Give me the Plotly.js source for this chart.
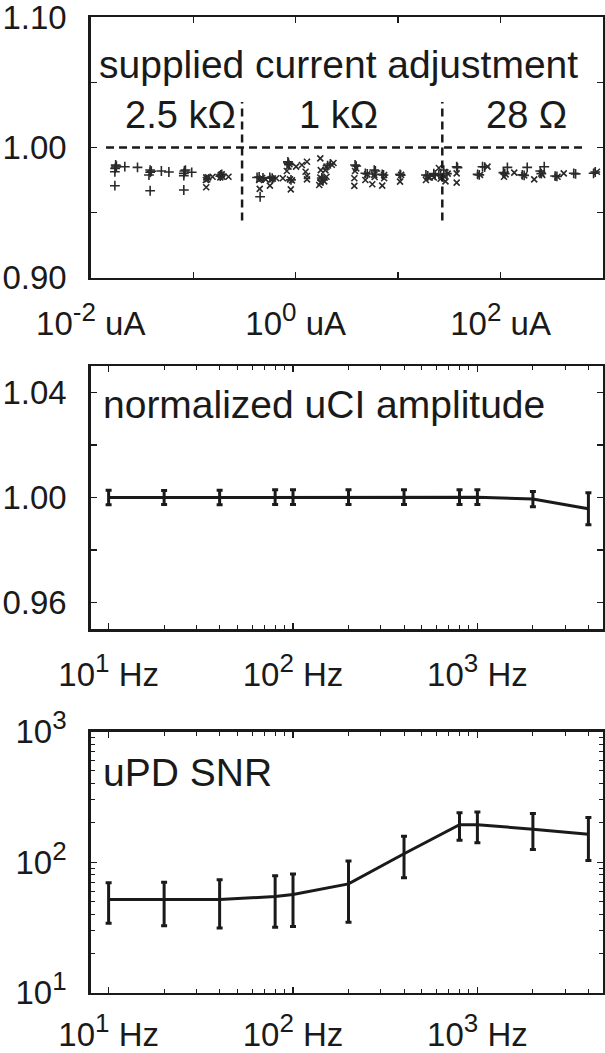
<!DOCTYPE html>
<html>
<head>
<meta charset="utf-8">
<script src="https://cdn.plot.ly/plotly-3.0.1.min.js"></script>
<style>html,body{margin:0;padding:0;background:#fff;}#chart{width:605px;height:1053px;}</style>
</head>
<body>
<div id="chart"></div>
<script>
// ---------- Panel 1: supplied current adjustment ----------
var plusX = [0.0175,0.0178,0.0173,0.0172,0.0176,0.0215,0.0286,0.0172,
             0.038,0.039,0.038,0.037,0.0489,0.0579,0.038,
             0.082,0.084,0.081,0.081,0.0967,0.081,0.186,0.19,0.184,
             0.45,0.42,0.48,0.44,0.56,0.59,0.84,0.86,0.85,0.90,1.85,1.80,2.18,2.05,3.8,3.9,4.79,5.0,5.85,6.0,7.0,7.2,10.45,10.6,18.7,19.5,
             22.3,23,25,26,27.9,30,37.3,38,59.7,62,66.7,70,106.6,110,116.6,163,170,182,244,250,267,341,355,518,540,809,840];
var plusY = [0.9866,0.9858,0.9840,0.9814,0.9850,0.9853,0.9848,0.9707,
             0.9827,0.9818,0.9810,0.9789,0.9820,0.9812,0.9668,
             0.9820,0.9827,0.9802,0.9784,0.9810,0.9674,0.9789,0.9794,0.9780,
             0.9622,0.9770,0.9766,0.9774,0.9770,0.9764,0.9890,0.9868,0.9880,0.9752,0.9751,0.9766,0.9874,0.9860,0.9866,0.9858,0.9802,0.9797,0.9827,0.9820,0.9794,0.9789,0.9794,0.9788,0.9789,0.9782,
             0.9800,0.9790,0.9794,0.9786,0.9827,0.9800,0.9853,0.9846,0.9794,0.9790,0.9853,0.9850,0.9807,0.9800,0.9848,0.9790,0.9786,0.9848,0.9820,0.9800,0.9853,0.9781,0.9778,0.9802,0.9798,0.9802,0.9812];
var crossX = [0.134,0.137,0.133,0.140,0.1545,0.134,
              0.186,0.19,0.184,0.193,0.221,
              0.446,0.44,0.45,0.51,0.47,0.561,0.58,0.60,0.646,0.750,0.897,0.88,0.92,0.85,0.82,0.87,
              1.01,1.15,1.29,1.25,1.29,1.29,1.74,1.76,1.70,1.74,1.75,1.9,1.82,2.0,2.0,2.34,2.25,1.95,
              3.74,3.9,3.8,3.74,5.0,4.79,5.6,5.85,5.9,7.0,7.3,7.31,10.7,10.45,19.5,18.7,20.4,
              22.3,25,26,28.5,30.5,29,37.3,37.3,63,74.6,108,112,136,170,213,250,255,360,414,871];
var crossY = [0.9771,0.9756,0.9751,0.9771,0.9776,0.9695,
              0.9789,0.9794,0.9771,0.9776,0.9776,
              0.9682,0.9752,0.9760,0.9756,0.9766,0.9707,0.9756,0.9762,0.9764,0.9764,0.9679,0.9756,0.9748,0.9853,0.9820,0.9872,
              0.9853,0.9866,0.9891,0.9814,0.9781,0.9756,0.9917,0.9827,0.9712,0.9770,0.9730,0.9740,0.9760,0.9776,0.9853,0.9881,0.9868,0.9827,
              0.9705,0.9840,0.9820,0.9764,0.9794,0.9751,0.9718,0.9790,0.9774,0.9707,0.9789,0.9764,0.9790,0.9738,0.9775,0.9751,0.9770,
              0.9770,0.9843,0.9760,0.9775,0.9800,0.9740,0.9802,0.9730,0.9790,0.9853,0.9776,0.9794,0.9807,0.9786,0.9756,0.9800,0.9790,0.9776,0.9802,0.9814];
var refLevel = 1.00;
var refSpanX = [0.0141, 676];
var rangeBounds = [0.3, 27];
var boundSpanY = [0.944, 1.035];
var rangeLabels = ['2.5 kΩ', '1 kΩ', '28 Ω'];
var rangeLabelX = [0.075, 2.6, 180];
var currTickVals = [0.01, 0.1, 1, 10, 100, 1000];
var currTickExp = ['-2', '', '0', '', '2', ''];
var adjTickVals = [0.90, 0.95, 1.00, 1.05, 1.10];
var adjTickText = ['0.90', '', '1.00', '', '1.10'];

// ---------- Panel 2: normalized uCI amplitude ----------
var freqs = [10, 20, 40, 80, 100, 200, 400, 800, 1000, 2000, 4000];
var amp = [1.0000, 1.0000, 1.0000, 1.0001, 1.0001, 1.0001, 1.0001, 1.0001, 1.0001, 0.9994, 0.9957];
var ampErr = [0.0028, 0.0027, 0.0028, 0.0028, 0.0028, 0.0028, 0.0028, 0.0028, 0.0028, 0.0029, 0.0061];
var ampTickVals = [0.96, 0.98, 1.00, 1.02, 1.04];
var ampTickText = ['0.96', '', '1.00', '', '1.04'];

// ---------- Panel 3: uPD SNR ----------
var snr = [51.7, 51.4, 51.7, 54.6, 56.6, 68.2, 116, 194, 194, 179, 164];
var snrHi = [69.5, 70.3, 73.3, 78.7, 81.1, 102, 158, 239, 243, 236, 220];
var snrLo = [34.0, 32.6, 31.3, 31.7, 32.1, 34.7, 75.9, 147, 141, 125, 103];
var freqTickVals = [10, 100, 1000];
var freqTickExp = ['1', '2', '3'];
var freqMinor = [20,30,40,50,60,70,80,90,200,300,400,500,600,700,800,900,2000,3000,4000];
var snrTickVals = [10, 100, 1000];
var snrTickExp = ['1', '2', '3'];
var snrMinor = [20,30,40,50,60,70,80,90,200,300,400,500,600,700,800,900];

var INK = '#1a1a1a';
var FONT = 'Liberation Sans, Arial, Helvetica, sans-serif';
var TICKFONT = {family: FONT, size: 33, color: INK};

function pow10(e, unit) {
  if (e === '') return '';
  return '10<sup><span style="font-size:26px">' + e + '</span></sup>' + (unit ? ' ' + unit : '');
}

function axisBase(extra) {
  var a = {
    showline: true, linewidth: 2.5, linecolor: INK, mirror: 'ticks',
    ticks: 'inside', ticklen: 6, tickwidth: 1.3, tickcolor: INK,
    showgrid: false, zeroline: false, tickfont: TICKFONT, ticklabeloverflow: 'allow'
  };
  for (var k in extra) a[k] = extra[k];
  return a;
}

var traces = [
  {x: plusX, y: plusY, xaxis: 'x', yaxis: 'y', mode: 'markers', type: 'scatter',
   marker: {symbol: 'cross-thin', size: 7, line: {width: 1.6, color: '#2a2a2a'}}, hoverinfo: 'skip'},
  {x: crossX, y: crossY, xaxis: 'x', yaxis: 'y', mode: 'markers', type: 'scatter',
   marker: {symbol: 'x-thin', size: 6, line: {width: 1.6, color: '#2a2a2a'}}, hoverinfo: 'skip'},
  {x: freqs, y: amp, xaxis: 'x2', yaxis: 'y2', mode: 'lines', type: 'scatter',
   line: {color: INK, width: 3},
   error_y: {type: 'data', array: ampErr, visible: true, color: INK, thickness: 3, width: 3}},
  {x: freqs, y: snr, xaxis: 'x3', yaxis: 'y3', mode: 'lines', type: 'scatter',
   line: {color: INK, width: 3},
   error_y: {type: 'data', symmetric: false,
             array: snrHi.map(function (h, i) { return h - snr[i]; }),
             arrayminus: snrLo.map(function (l, i) { return snr[i] - l; }),
             visible: true, color: INK, thickness: 3, width: 3}}
];

var shapes = [
  {type: 'line', xref: 'x', yref: 'y', x0: refSpanX[0], x1: refSpanX[1], y0: refLevel, y1: refLevel,
   line: {color: INK, width: 2.5, dash: '8px,5px'}}
];
rangeBounds.forEach(function (b) {
  shapes.push({type: 'line', xref: 'x', yref: 'y', x0: b, x1: b, y0: boundSpanY[0], y1: boundSpanY[1],
               line: {color: INK, width: 2.5, dash: '8px,5px'}});
});

var annotations = [
  {text: 'supplied current adjustment', xref: 'paper', yref: 'paper', x: 97 / 605, y: 1 - 64 / 1053,
   xanchor: 'left', yanchor: 'middle', showarrow: false, font: {family: FONT, size: 39, color: INK}},
  {text: 'normalized uCI amplitude', xref: 'paper', yref: 'paper', x: 101 / 605, y: 1 - 405 / 1053,
   xanchor: 'left', yanchor: 'middle', showarrow: false, font: {family: FONT, size: 39, color: INK}},
  {text: 'uPD SNR', xref: 'paper', yref: 'paper', x: 101 / 605, y: 1 - 772 / 1053,
   xanchor: 'left', yanchor: 'middle', showarrow: false, font: {family: FONT, size: 39, color: INK}}
];
rangeLabels.forEach(function (t, i) {
  annotations.push({text: t, xref: 'x', yref: 'paper', x: Math.log10(rangeLabelX[i]), y: 1 - 115 / 1053,
    xanchor: 'center', yanchor: 'middle', showarrow: false, font: {family: FONT, size: 38, color: INK}});
});

var layout = {
  width: 605, height: 1053, margin: {l: 0, r: 0, t: 0, b: 0},
  paper_bgcolor: '#fff', plot_bgcolor: '#fff', showlegend: false,
  xaxis: axisBase({type: 'log', range: [-2, 3], domain: [0.15, 0.9967], anchor: 'y',
    tickmode: 'array', tickvals: currTickVals,
    ticktext: currTickExp.map(function (e) { return pow10(e, 'uA'); }), ticklabelstandoff: 15}),
  yaxis: axisBase({range: [0.9, 1.1], domain: [1 - 277.7 / 1053, 1 - 17.4 / 1053], anchor: 'x',
    tickmode: 'array', tickvals: adjTickVals, ticktext: adjTickText, ticklabelstandoff: 15}),
  xaxis2: axisBase({type: 'log', range: [Math.log10(8), Math.log10(4800)], domain: [0.15, 0.9967], anchor: 'y2',
    tickmode: 'array', tickvals: freqTickVals,
    ticktext: freqTickExp.map(function (e) { return pow10(e, 'Hz'); }), ticklabelstandoff: 15,
    minor: {tickmode: 'array', tickvals: freqMinor, ticks: 'inside', ticklen: 4, tickwidth: 1, tickcolor: INK}}),
  yaxis2: axisBase({range: [0.95, 1.05], domain: [1 - 629 / 1053, 1 - 366 / 1053], anchor: 'x2',
    tickmode: 'array', tickvals: ampTickVals, ticktext: ampTickText, ticklabelstandoff: 15}),
  xaxis3: axisBase({type: 'log', range: [Math.log10(8), Math.log10(4800)], domain: [0.15, 0.9967], anchor: 'y3',
    tickmode: 'array', tickvals: freqTickVals,
    ticktext: freqTickExp.map(function (e) { return pow10(e, 'Hz'); }), ticklabelstandoff: 11,
    minor: {tickmode: 'array', tickvals: freqMinor, ticks: 'inside', ticklen: 4, tickwidth: 1, tickcolor: INK}}),
  yaxis3: axisBase({type: 'log', range: [1, 3], domain: [1 - 992.7 / 1053, 1 - 731.7 / 1053], anchor: 'x3',
    tickmode: 'array', tickvals: snrTickVals,
    ticktext: snrTickExp.map(function (e) { return pow10(e, ''); }), ticklabelstandoff: 15,
    minor: {tickmode: 'array', tickvals: snrMinor, ticks: 'inside', ticklen: 4, tickwidth: 1, tickcolor: INK}}),
  shapes: shapes,
  annotations: annotations
};

Plotly.newPlot('chart', traces, layout, {staticPlot: true, displayModeBar: false});
</script>
</body>
</html>
